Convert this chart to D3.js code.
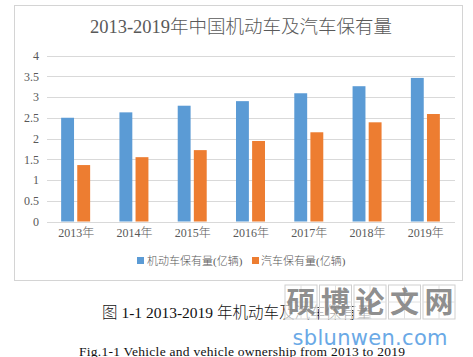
<!DOCTYPE html>
<html><head><meta charset="utf-8">
<script src="https://cdn.jsdelivr.net/npm/d3@7"></script>
<style>html,body{margin:0;padding:0;background:#fff;}svg{display:block;}</style>
</head><body>
<script>
const years = ["2013年","2014年","2015年","2016年","2017年","2018年","2019年"];
const motorVehicles = [2.50, 2.63, 2.79, 2.90, 3.09, 3.26, 3.46];
const cars = [1.36, 1.55, 1.72, 1.94, 2.15, 2.39, 2.59];
const seriesNames = ["机动车保有量(亿辆)", "汽车保有量(亿辆)"];
const yTicks = [0, 0.5, 1, 1.5, 2, 2.5, 3, 3.5, 4];
const colors = ["#5b9bd5", "#ed7d31"];
const title = "2013-2019年中国机动车及汽车保有量";
const captionCN = "图 1-1 2013-2019 年机动车及汽车保有量";
const captionEN = "Fig.1-1 Vehicle and vehicle ownership from 2013 to 2019";
const watermarkChars = ["硕","博","论","文","网"];
const watermarkUrl = "sblunwen.com";

const W = 473, H = 357;
const serif = "'Liberation Serif','Times New Roman','Noto Sans CJK SC',serif";
const svg = d3.select("body").append("svg").attr("width", W).attr("height", H);

// chart frame
svg.append("rect").attr("x", 14.5).attr("y", 5.5).attr("width", 448).attr("height", 275)
  .attr("fill", "#fff").attr("stroke", "#d4d4d4").attr("stroke-width", 1);

svg.append("text").attr("x", 241).attr("y", 33).attr("text-anchor", "middle")
  .attr("font-family", serif).attr("font-size", 18.5).attr("font-weight", 300)
  .attr("fill", "#595959").text(title);

const y = d3.scaleLinear().domain([0, 4]).range([221.5, 55.5]);
const x = d3.scaleBand().domain(years).range([47, 455]).padding(0);
const x1 = d3.scaleBand().domain([0, 1])
  .range([x.bandwidth() / 2 - 15, x.bandwidth() / 2 + 14]).paddingInner(0.2);

// grid
svg.append("g").selectAll("line").data(yTicks).join("line")
  .attr("x1", 47).attr("x2", 455)
  .attr("y1", d => Math.round(y(d)) + 0.5).attr("y2", d => Math.round(y(d)) + 0.5)
  .attr("stroke", "#d9d9d9").attr("stroke-width", 1);

// y axis labels
const yAxis = d3.axisLeft(y).tickValues(yTicks).tickSize(0).tickPadding(0).tickFormat(d => d);
const gy = svg.append("g").attr("transform", "translate(39,0)").call(yAxis);
gy.select(".domain").remove();
gy.selectAll("text").attr("font-family", serif).attr("font-size", 12).attr("fill", "#595959");

// x axis labels
const xAxis = d3.axisBottom(x).tickSize(0).tickPadding(0);
const gx = svg.append("g").attr("transform", "translate(0,228)").call(xAxis);
gx.select(".domain").remove();
gx.selectAll("text").attr("font-family", serif).attr("font-size", 12).attr("font-weight", 300).attr("fill", "#595959");

// bars
const series = [motorVehicles, cars];
series.forEach((vals, si) => {
  svg.append("g").selectAll("rect").data(vals).join("rect")
    .attr("x", (d, i) => x(years[i]) + x1(si))
    .attr("width", x1.bandwidth())
    .attr("y", d => y(d))
    .attr("height", d => y(0) - y(d))
    .attr("fill", colors[si]);
});

// legend
const legendItems = [{x: 137, tx: 147}, {x: 252, tx: 261}];
legendItems.forEach((p, i) => {
  svg.append("rect").attr("x", p.x).attr("y", 257).attr("width", 7).attr("height", 7).attr("fill", colors[i]);
  svg.append("text").attr("x", p.tx).attr("y", 265).attr("font-family", serif)
    .attr("font-size", 11).attr("font-weight", 300).attr("fill", "#595959").text(seriesNames[i]);
});

// captions
svg.append("text").attr("x", 102).attr("y", 318).attr("font-family", serif)
  .attr("font-size", 15.5).attr("font-weight", 300).attr("fill", "#111").text(captionCN);
svg.append("text").attr("x", 79).attr("y", 356).attr("font-family", serif)
  .attr("font-size", 13.5).attr("fill", "#111").attr("textLength", 326).text(captionEN);

// watermark
const wm = svg.append("g");
watermarkChars.forEach((c, i) => {
  const bx = 285 + i * 34.5, by = 285, bs = 32;
  wm.append("rect").attr("x", bx).attr("y", by).attr("width", bs).attr("height", bs + 2)
    .attr("fill", "#fff").attr("fill-opacity", 0.65).attr("stroke", "#d0d0d0");
  wm.append("line").attr("x1", bx + bs / 2).attr("x2", bx + bs / 2).attr("y1", by).attr("y2", by + bs + 2).attr("stroke", "#e0e0e0");
  wm.append("line").attr("x1", bx).attr("x2", bx + bs).attr("y1", by + bs / 2 + 1).attr("y2", by + bs / 2 + 1).attr("stroke", "#e0e0e0");
  wm.append("text").attr("x", bx + bs / 2).attr("y", by + 28).attr("text-anchor", "middle")
    .attr("font-family", "'Noto Sans CJK SC',sans-serif").attr("font-weight", 700)
    .attr("font-size", 29).attr("fill", "#808080").attr("fill-opacity", 0.9).text(c);
});
wm.append("text").attr("x", 370).attr("y", 345).attr("text-anchor", "middle")
  .attr("font-family", "'DejaVu Sans','Noto Sans',sans-serif").attr("font-size", 21)
  .attr("fill", "#6aa9e6").attr("textLength", 155).text(watermarkUrl);
</script>
</body></html>
